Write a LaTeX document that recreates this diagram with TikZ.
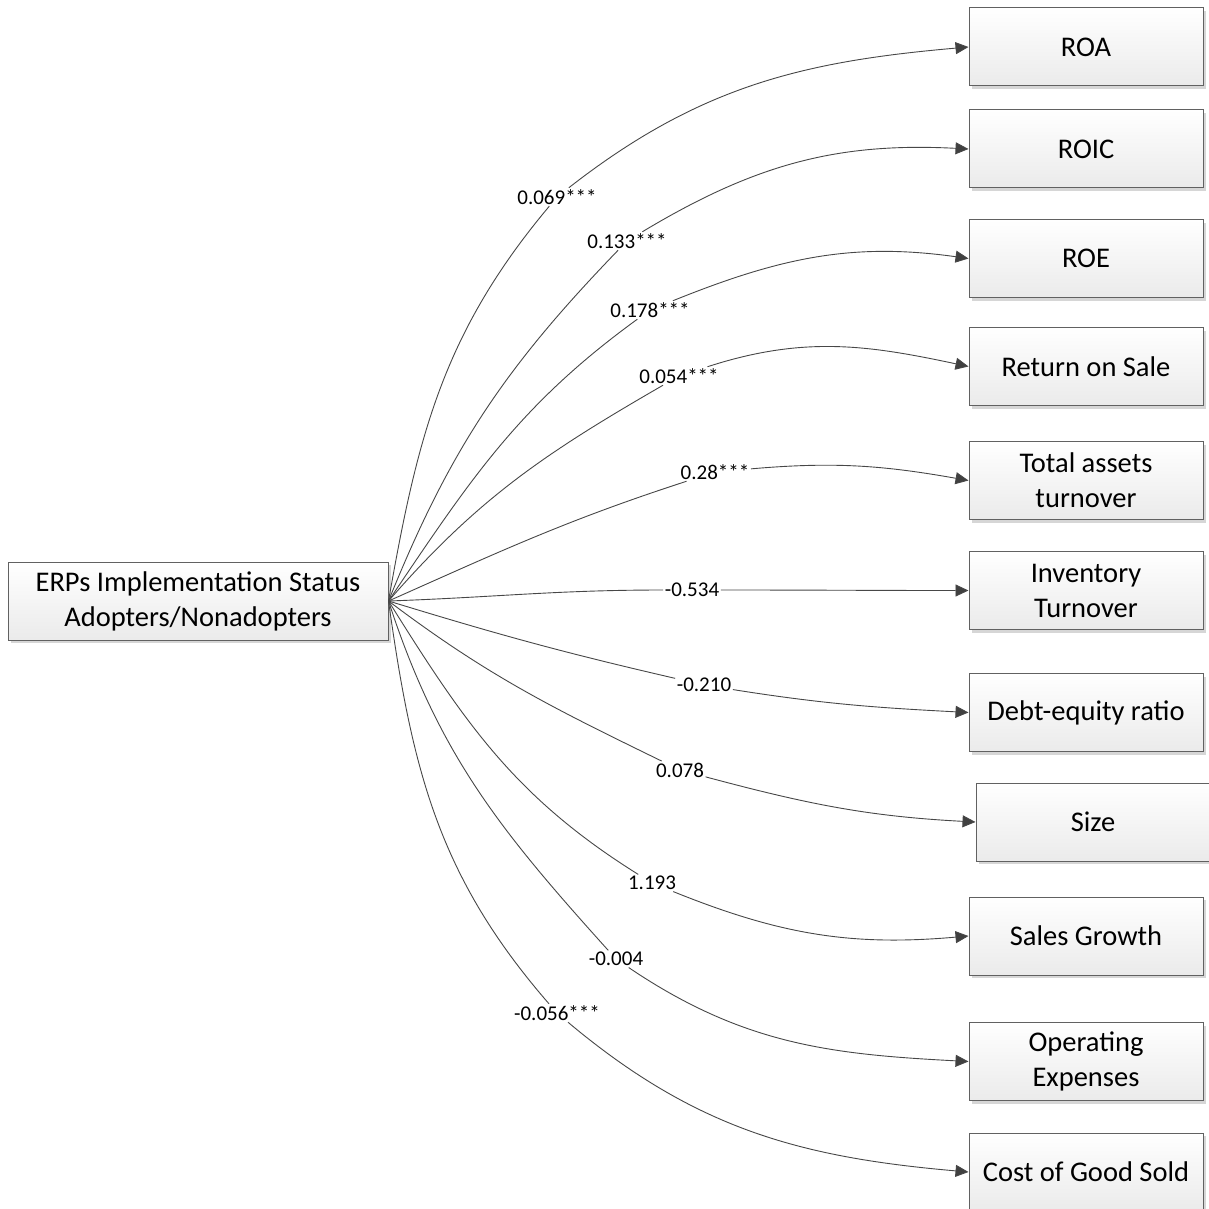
\documentclass[tikz,border=0pt]{standalone}
\usepackage{fontspec}
\setmainfont{Carlito}
\usetikzlibrary{arrows.meta,shadows}

\begin{document}
\begin{tikzpicture}[x=1pt,y=-1pt,
  box/.style={draw=black!62, line width=1pt, top color=white, bottom color=black!8,
    minimum width=234pt, minimum height=78pt, inner sep=0pt, align=center,
    font=\fontsize{28.5}{35}\selectfont,
    drop shadow={shadow xshift=3pt,shadow yshift=-3pt,fill=black!16,opacity=1}},
  lab/.style={inner sep=1.5pt, font=\fontsize{21}{24}\selectfont},
  link/.style={draw=black!72, line width=0.9pt,
    -{Triangle[length=13pt,width=12pt,fill=black!75]}}
]
\useasboundingbox (0,0) rectangle (1208,1209);

% source
\node[box, minimum width=380pt] (src) at (198,601)
  {ERPs Implementation Status\\Adopters/Nonadopters};

% outcome measures
\node[box] (roa)  at (1086,47)    {ROA};
\node[box] (roic) at (1086,149)   {ROIC};
\node[box] (roe)  at (1086,258.5) {ROE};
\node[box] (ros)  at (1086,366.5) {Return on Sale};
\node[box] (tat)  at (1086,480.5) {Total assets\\turnover};
\node[box] (inv)  at (1086,590.5) {Inventory\\Turnover};
\node[box] (der)  at (1086,712.5) {Debt-equity ratio};
\node[box] (size) at (1093,822)   {Size};
\node[box] (sg)   at (1086,936)   {Sales Growth};
\node[box] (opex) at (1086,1061.5){Operating\\Expenses};
\node[box] (cogs) at (1086,1172)  {Cost of Good Sold};

% coefficients
\node[lab] (l1)  at (557,197)  {0.069***};
\node[lab] (l2)  at (627,241)  {0.133***};
\node[lab] (l3)  at (650,310)  {0.178***};
\node[lab] (l4)  at (679,376)  {0.054***};
\node[lab] (l5)  at (715,472)  {0.28***};
\node[lab] (l6)  at (692,590)  {-0.534};
\node[lab] (l7)  at (704,685)  {-0.210};
\node[lab] (l8)  at (680,770)  {0.078};
\node[lab] (l9)  at (652,883)  {1.193};
\node[lab] (l10) at (616,959)  {-0.004};
\node[lab] (l11) at (557,1013) {-0.056***};

% paths
\draw[link] (src.east) to[out=80,in=230]  (l1)  to[out=38,in=185]  (roa.west);
\draw[link] (src.east) to[out=68,in=226]  (l2)  to[out=31,in=177]  (roic.west);
\draw[link] (src.east) to[out=56,in=216]  (l3)  to[out=22,in=172]  (roe.west);
\draw[link] (src.east) to[out=49,in=210]  (l4)  to[out=18,in=168]  (ros.west);
\draw[link] (src.east) to[out=24,in=198]  (l5)  to[out=5,in=170]   (tat.west);
\draw[link] (src.east) to[out=2,in=180]   (l6)  to[out=0,in=180]   (inv.west);
\draw[link] (src.east) to[out=-17,in=167] (l7)  to[out=-9,in=177]  (der.west);
\draw[link] (src.east) to[out=-37,in=154] (l8)  to[out=-15,in=177] (size.west);
\draw[link] (src.east) to[out=-58,in=148] (l9)  to[out=-22,in=185] (sg.west);
\draw[link] (src.east) to[out=-72,in=132] (l10) to[out=-34,in=177] (opex.west);
\draw[link] (src.east) to[out=-82,in=131] (l11) to[out=-40,in=175] (cogs.west);
\end{tikzpicture}
\end{document}
